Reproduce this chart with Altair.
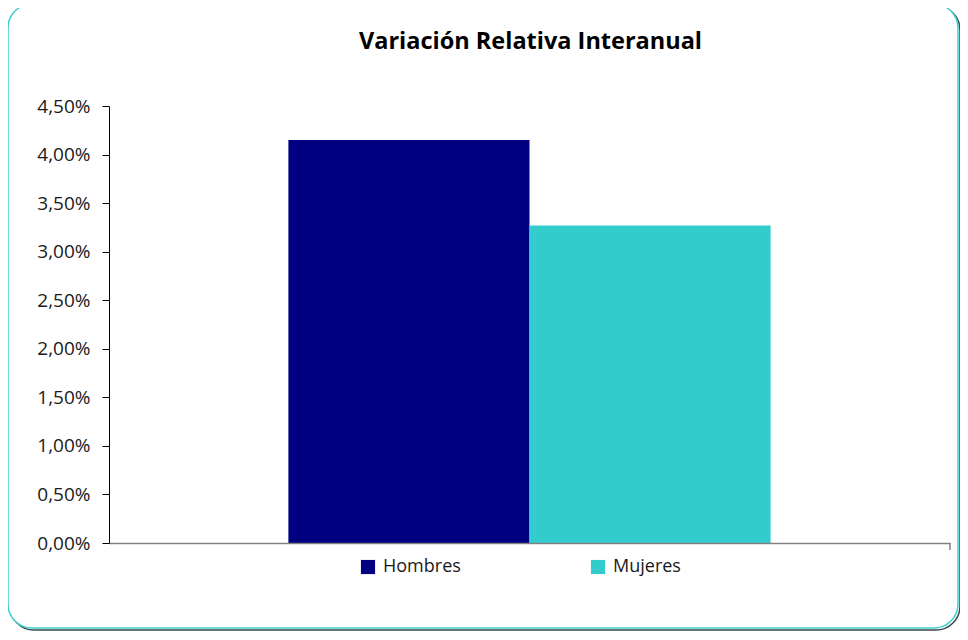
import altair as alt
import pandas as pd

# ---- data ----
sexos = ["Hombres", "Mujeres"]
variacion = [0.0415, 0.0327]
colores = ["#000080", "#33CCCC"]
grupo = ["Total", "Total"]
y_ticks = [0.0, 0.005, 0.01, 0.015, 0.02, 0.025, 0.03, 0.035, 0.04, 0.045]
titulo = "Variación Relativa Interanual"

df = pd.DataFrame({"grupo": grupo, "Sexo": sexos, "variacion": variacion})
one = pd.DataFrame({"k": [0]})

W, H = 841, 437
FONT = "Open Sans"

# decorative frame (rounded border with a faint shadow)
shadow = alt.Chart(one).mark_rect(
    fill="#ffffff", stroke="#3a4a4a", strokeWidth=1.5, cornerRadius=24
).encode(x=alt.value(-99), x2=alt.value(851), y=alt.value(-100), y2=alt.value(524))

frame = alt.Chart(one).mark_rect(
    fill="#ffffff", stroke="#3CCFD0", strokeWidth=1.5, cornerRadius=24
).encode(x=alt.value(-101), x2=alt.value(849), y=alt.value(-102), y2=alt.value(522))

title = alt.Chart(one).mark_text(
    font=FONT, fontSize=23.5, fontWeight="bold", color="#000000",
    align="center", baseline="alphabetic",
).encode(x=alt.value(W / 2 + 1), y=alt.value(-57), text=alt.value(titulo))

bars = alt.Chart(df).mark_bar().encode(
    x=alt.X(
        "grupo:N",
        axis=alt.Axis(title=None, labels=False, ticks=False,
                      domainColor="#808080", domainWidth=1.5, zindex=2),
        scale=alt.Scale(paddingInner=0, paddingOuter=0.372),
    ),
    xOffset=alt.XOffset("Sexo:N", sort=sexos,
                        scale=alt.Scale(paddingInner=0, paddingOuter=0)),
    y=alt.Y(
        "variacion:Q",
        scale=alt.Scale(domain=[0, 0.045], nice=False),
        axis=alt.Axis(
            title=None, values=y_ticks,
            labelExpr="replace(format(datum.value, '.2%'), '.', ',')",
            grid=False, domainColor="#000000", tickColor="#000000",
            tickSize=7, labelPadding=12, labelFontSize=19, labelFont=FONT,
            labelColor="#1a1a1a", zindex=2,
        ),
    ),
    color=alt.Color(
        "Sexo:N", sort=sexos,
        scale=alt.Scale(domain=sexos, range=colores),
        legend=alt.Legend(
            title=None, orient="none", legendX=250, legendY=452,
            direction="horizontal", symbolType="square", symbolSize=200,
            symbolStrokeWidth=0, labelFontSize=18, labelFont=FONT,
            labelColor="#1a1a1a", columnPadding=128, labelOffset=6,
        ),
    ),
)

end_tick = alt.Chart(one).mark_rule(color="#808080", strokeWidth=1.5).encode(
    x=alt.value(W), y=alt.value(H), y2=alt.value(H + 7)
)

chart = alt.layer(shadow, frame, title, bars, end_tick).properties(
    width=W, height=H,
    autosize=alt.AutoSizeParams(type="none"),
    padding={"left": 101, "top": 98, "right": 10, "bottom": 89},
).configure_view(stroke=None)

chart.save("out.html", embed_options={"renderer": "svg", "actions": False})
